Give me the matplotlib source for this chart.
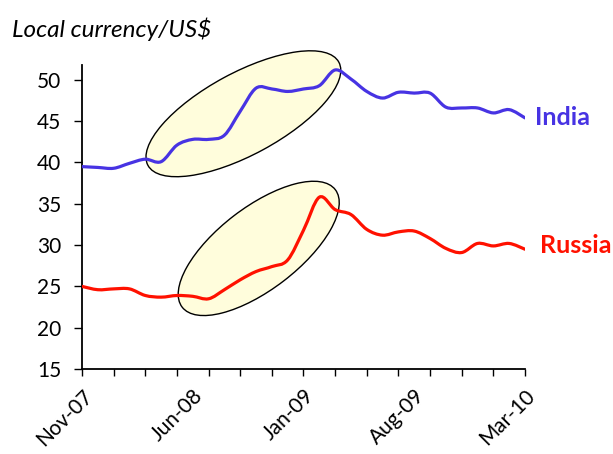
import matplotlib

matplotlib.use("Agg")

import matplotlib.pyplot as plt
import numpy as np
from matplotlib import transforms
from matplotlib.patches import Ellipse, PathPatch
from matplotlib.path import Path

# monthly data, Nov-07 .. Mar-10
months = np.arange(29)
label_months = [0, 7, 14, 21, 28]
tick_labels = ["Nov-07", "Jun-08", "Jan-09", "Aug-09", "Mar-10"]
india = [39.5, 39.4, 39.3, 39.9, 40.4, 40.1, 42.1, 42.8, 42.8, 43.3,
         46.2, 49.0, 48.9, 48.6, 48.9, 49.3, 51.2, 50.1, 48.6, 47.8,
         48.5, 48.4, 48.4, 46.7, 46.6, 46.6, 46.0, 46.4, 45.4]
russia = [25.0, 24.6, 24.7, 24.7, 23.9, 23.7, 23.9, 23.8, 23.5, 24.6,
          25.8, 26.8, 27.4, 28.2, 31.8, 35.8, 34.3, 33.7, 31.9, 31.2,
          31.6, 31.7, 30.8, 29.6, 29.1, 30.2, 29.9, 30.2, 29.5]

INDIA_COLOR = "#4733e3"
RUSSIA_COLOR = "#ff1100"
FONT = "Lato"

plt.rcParams["font.family"] = [FONT, "DejaVu Sans"]


def smooth_path(x, y) -> Path:
    # excel-style smoothed line: catmull-rom segments as cubic beziers
    pts = np.column_stack([x, y]).astype(float)
    ext = np.vstack([pts[0], pts, pts[-1]])
    verts = [pts[0]]
    codes = [Path.MOVETO]
    for i in range(len(pts) - 1):
        p0, p1, p2, p3 = ext[i], ext[i + 1], ext[i + 2], ext[i + 3]
        verts += [p1 + (p2 - p0) / 6, p2 - (p3 - p1) / 6, p2]
        codes += [Path.CURVE4] * 3
    return Path(verts, codes)


fig = plt.figure(figsize=(6.13, 4.54), dpi=100)
ax = fig.add_axes([0.1338, 0.1872, 0.7226, 0.6696])
ax.set_xlim(0, 28)
ax.set_ylim(15, 51.8)


def highlight(cx, cy, width, height, angle):
    # ellipse sized in inches, centred on a data point
    trans = fig.dpi_scale_trans + transforms.ScaledTranslation(cx, cy, ax.transData)
    ax.add_patch(Ellipse((0, 0), width, height, angle=angle, transform=trans,
                         facecolor="#fffddc", edgecolor="black", linewidth=1.0,
                         zorder=1, clip_on=False))


highlight(10.2, 45.9, 2.17, 0.82, 28.4)
highlight(11.17, 29.6, 1.93, 0.82, 37.5)

for values, color in [(india, INDIA_COLOR), (russia, RUSSIA_COLOR)]:
    ax.add_patch(PathPatch(smooth_path(months, values), fill=False, edgecolor=color,
                           linewidth=2.3, capstyle="round", joinstyle="round", zorder=3))

ax.annotate("India", xy=(months[-1], india[-1]), xytext=(7, 0), textcoords="offset points",
            va="center", ha="left", color=INDIA_COLOR, fontsize=18, fontweight="bold",
            annotation_clip=False)
ax.annotate("Russia", xy=(months[-1], russia[-1]), xytext=(11, 3), textcoords="offset points",
            va="center", ha="left", color=RUSSIA_COLOR, fontsize=18, fontweight="bold",
            annotation_clip=False)

for side in ["top", "right"]:
    ax.spines[side].set_visible(False)
for side in ["left", "bottom"]:
    ax.spines[side].set_linewidth(1.3)

ax.set_yticks(np.arange(15, 51, 5))
ax.tick_params(axis="y", direction="out", length=6, width=1.0, labelsize=15, pad=9)

ax.xaxis.remove_overlapping_locs = False
ax.set_xticks(np.arange(0, 29, 2))
ax.set_xticklabels([])
ax.tick_params(axis="x", which="major", direction="out", length=5, width=1.0)
ax.set_xticks(label_months, minor=True)
ax.set_xticklabels(tick_labels, minor=True, rotation=45, ha="right", rotation_mode="anchor",
                   fontsize=15)
ax.tick_params(axis="x", which="minor", length=0, pad=12)

fig.text(12 / 613, 1 - 37 / 454, "Local currency/US$", fontsize=17.5, style="italic",
         ha="left", va="baseline")

fig.savefig("out.png", dpi=100)
